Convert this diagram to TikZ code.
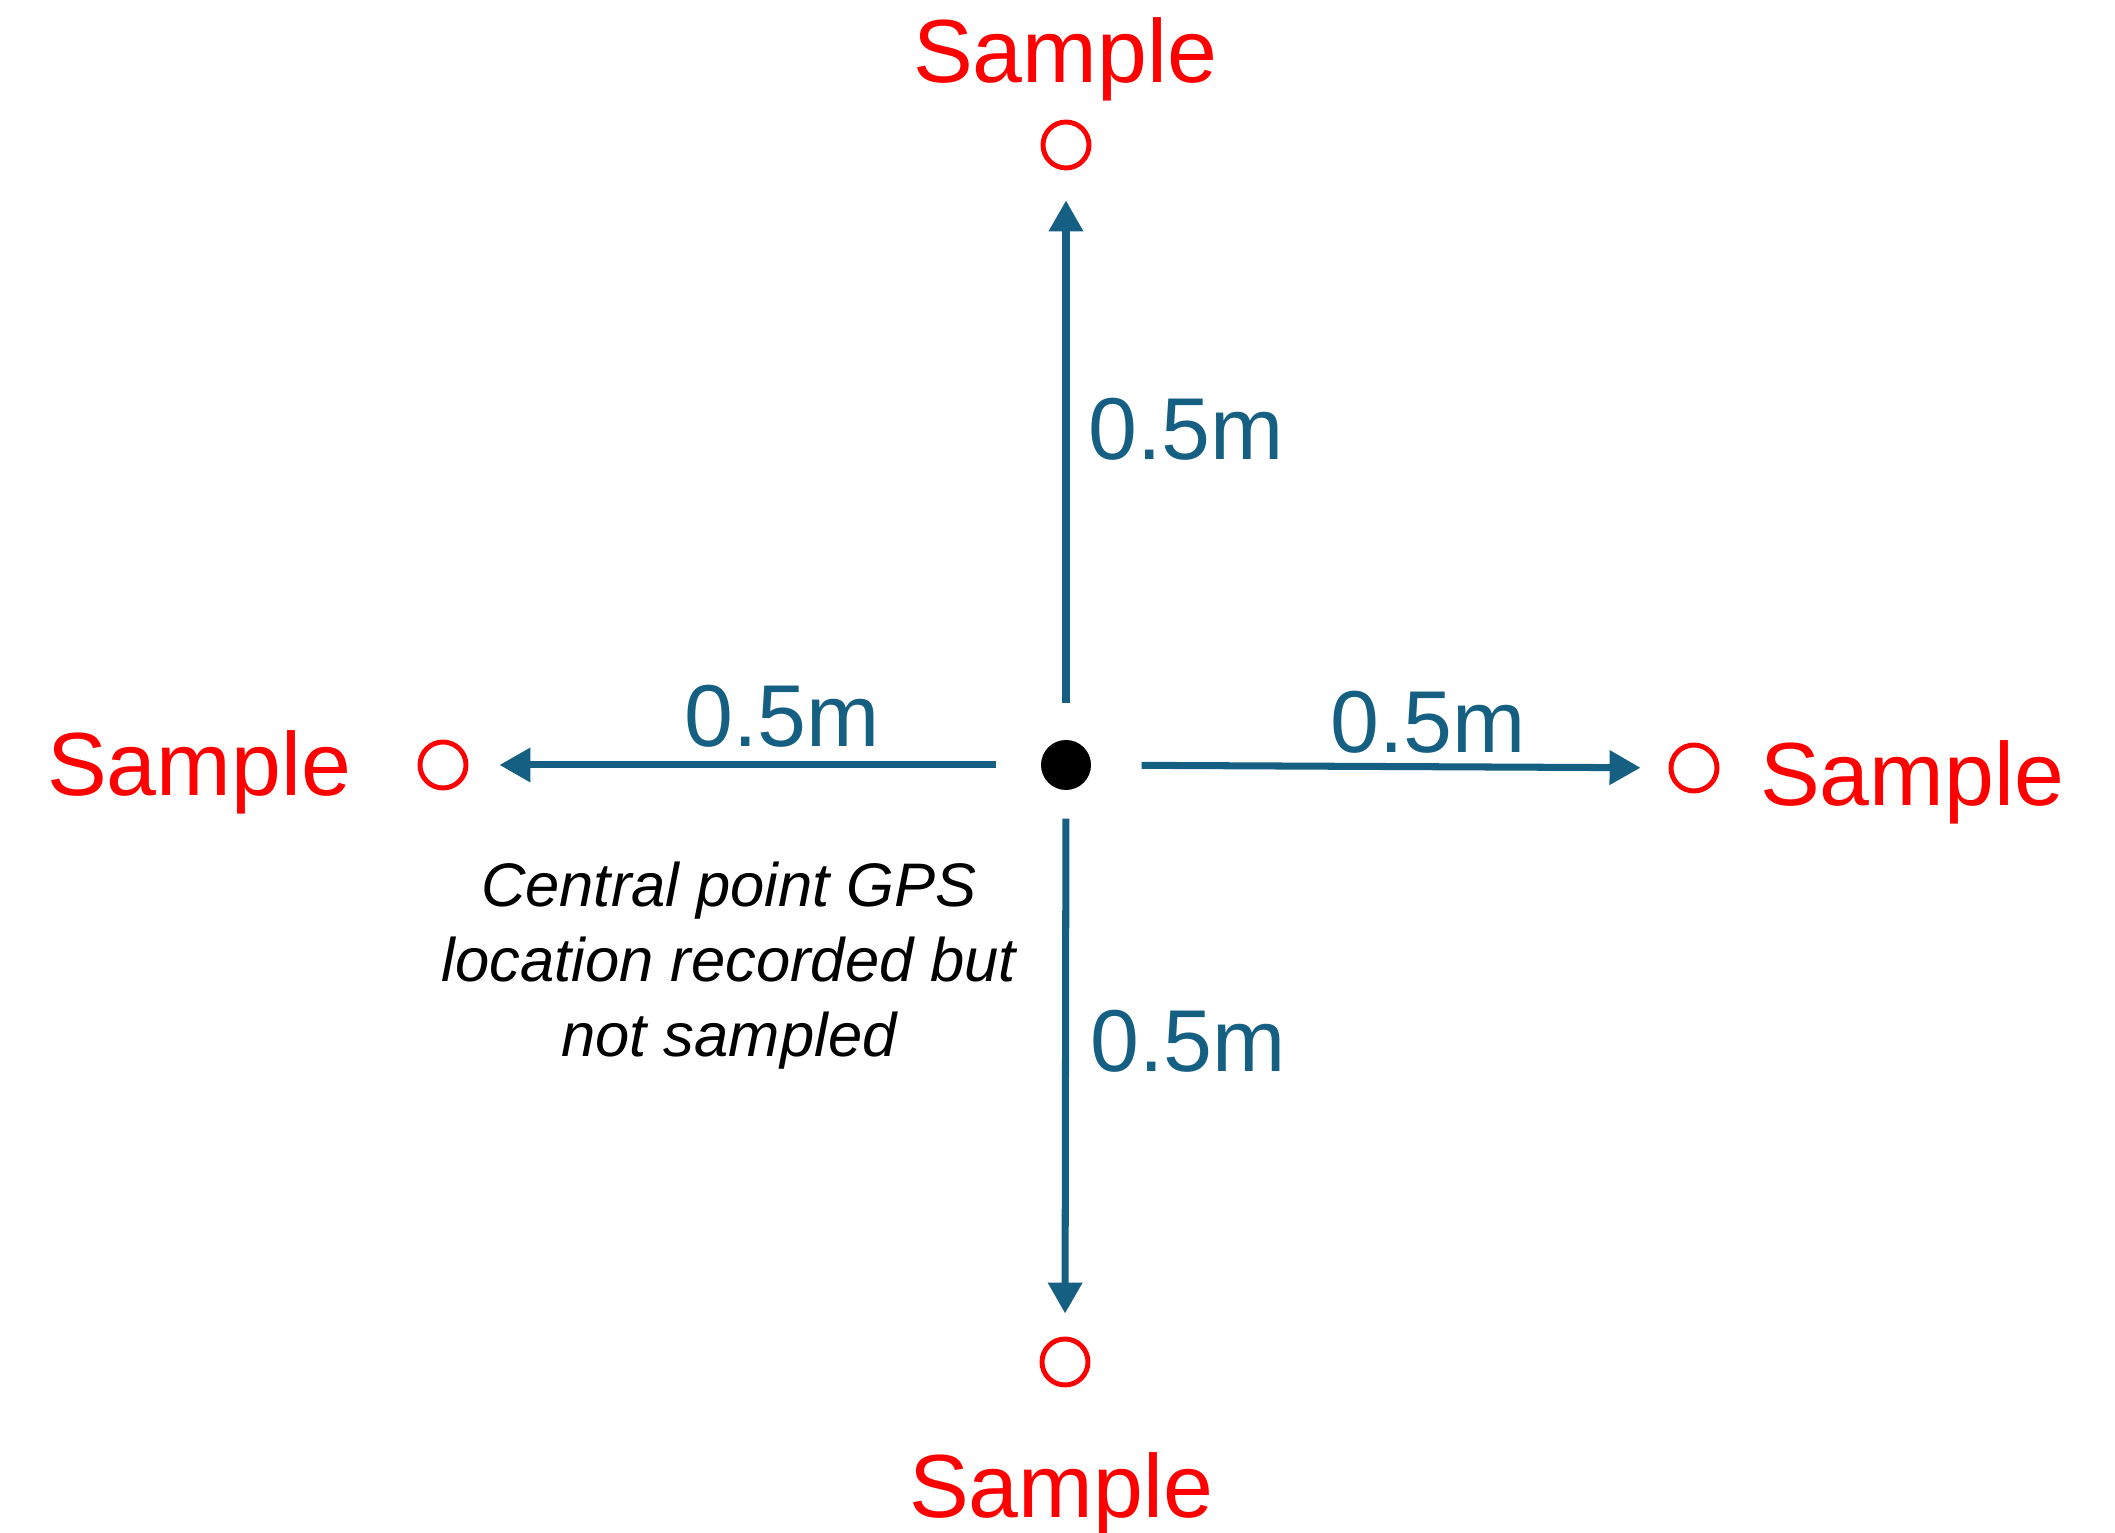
\documentclass[tikz,border=0pt]{standalone}
\usepackage{fontspec}
\setmainfont{Liberation Sans}
\usepackage{tikz}
\usetikzlibrary{arrows.meta}
\definecolor{distblue}{RGB}{21,96,130}

\begin{document}
\begin{tikzpicture}[-]
                \tikzstyle{spot}=[circle,draw=red,line width=1.4pt,fill=white,minimum size=0.46cm,inner sep=0pt]
                \tikzstyle{centre}=[circle,fill=black,minimum size=0.5cm,inner sep=0pt]
                \tikzstyle{samplelbl}=[text=red,font=\fontsize{25.5}{30}\selectfont,anchor=base,inner sep=0pt]
                \tikzstyle{distlbl}=[text=distblue,font=\fontsize{25}{30}\selectfont,anchor=base,inner sep=0pt]
                \tikzstyle{dist}=[draw=distblue,line width=2pt,-{Triangle[length=0.31cm,width=0.33cm]}]
                \useasboundingbox (0,0) rectangle (21.15,15.33);

                \node[centre] (C) at (10.66,7.68) {};
                \foreach \name/\x/\y in {top/10.66/13.88, bot/10.65/1.71, left/4.43/7.68, right/16.94/7.65}
                        \node[spot] (S-\name) at (\x,\y) {};

                \foreach \to/\a/\b in {top/0.36/0.30, bot/0.28/0.23, left/0.44/0.31, right/0.50/0.28}
                        \draw[dist,shorten <=\a cm,shorten >=\b cm] (C) -- (S-\to);

                \foreach \name/\x/\y in {top/10.65/14.50, bot/10.61/0.15, left/1.99/7.37, right/19.12/7.27}
                        \node[samplelbl] (L-\name) at (\x,\y) {Sample};

                \foreach \name/\x/\y in {top/11.86/10.73, bot/11.88/4.61, left/7.82/7.86, right/14.28/7.80}
                        \node[distlbl] (D-\name) at (\x,\y) {0.5m};

                \node[align=center,inner sep=0pt,font=\itshape\fontsize{17.5}{21.34}\selectfont] (note) at (7.29,5.675)
                        {Central point GPS\\location recorded but\\not sampled};
            \end{tikzpicture}
\end{document}
